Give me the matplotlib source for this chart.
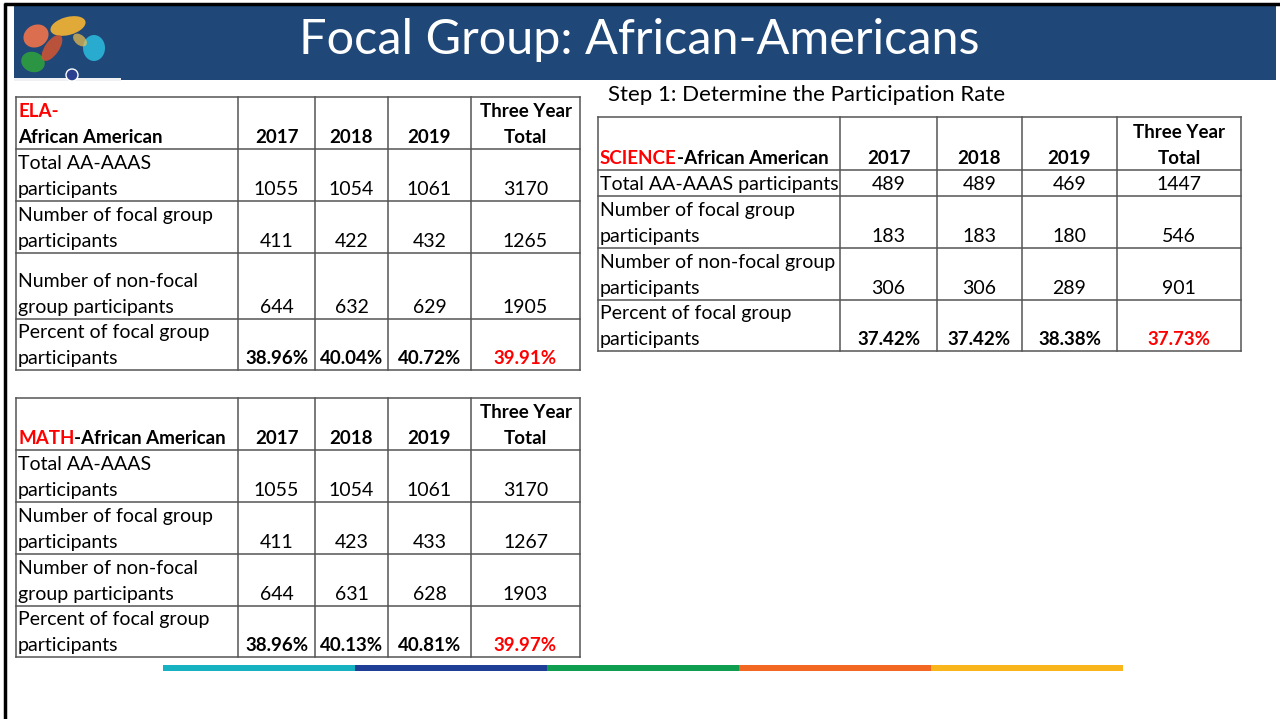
import matplotlib
matplotlib.use("Agg")
import matplotlib.pyplot as plt
from matplotlib.patches import Rectangle, Ellipse, Circle

# ---------------- data ----------------
title = "Focal Group: African-Americans"
step_text = "Step 1: Determine the Participation Rate"
years = ["2017", "2018", "2019"]
total_header = ["Three Year", "Total"]

ela_labels = [["Total AA-AAAS", "participants"],
              ["Number of focal group", "participants"],
              ["Number of non-focal", "group participants"],
              ["Percent of focal group", "participants"]]
ela_total = ["1055", "1054", "1061", "3170"]
ela_focal = ["411", "422", "432", "1265"]
ela_nonfocal = ["644", "632", "629", "1905"]
ela_pct = ["38.96%", "40.04%", "40.72%", "39.91%"]

math_labels = ela_labels
math_total = ["1055", "1054", "1061", "3170"]
math_focal = ["411", "423", "433", "1267"]
math_nonfocal = ["644", "631", "628", "1903"]
math_pct = ["38.96%", "40.13%", "40.81%", "39.97%"]

sci_labels = [["Total AA-AAAS participants"],
              ["Number of focal group", "participants"],
              ["Number of non-focal group", "participants"],
              ["Percent of focal group", "participants"]]
sci_total = ["489", "489", "469", "1447"]
sci_focal = ["183", "183", "180", "546"]
sci_nonfocal = ["306", "306", "289", "901"]
sci_pct = ["37.42%", "37.42%", "38.38%", "37.73%"]

bar_colors = ["#17B2C2", "#1F3F96", "#0F9E50", "#F26722", "#F8B51C"]

# ---------------- figure ----------------
W, H = 1280, 719
fig = plt.figure(figsize=(W / 100, H / 100), dpi=100)
ax = fig.add_axes([0, 0, 1, 1])
ax.set_xlim(0, W)
ax.set_ylim(H, 0)
ax.axis("off")

FONT = "Lato"
FS = 14
FSB = 13.5
LINE = 26
RED = "#FF0000"
GRID = "#555555"

# slide frame
ax.plot([5, 5], [3, H], color="black", lw=2.5, solid_capstyle="butt")
ax.plot([4, W], [4, 4], color="black", lw=2.5, solid_capstyle="butt")
# header band
ax.add_patch(Rectangle((14, 6), 1262, 74, facecolor="#1F4778", edgecolor="none"))
ax.add_patch(Rectangle((14, 78), 107, 3, facecolor="#EEF0F4", edgecolor="none"))
ax.text(639, 40, title, color="white", fontsize=35, family=FONT,
        ha="center", va="center")

# logo approximation
ax.add_patch(Ellipse((36, 36), 26, 22, angle=-30, facecolor="#F0734A", alpha=0.9))
ax.add_patch(Ellipse((68, 26), 36, 18, angle=-15, facecolor="#F6B531", alpha=0.9))
ax.add_patch(Ellipse((94, 48), 22, 26, facecolor="#2BB6D9", alpha=0.9))
ax.add_patch(Ellipse((33, 62), 24, 20, angle=20, facecolor="#2E9E3F", alpha=0.9))
ax.add_patch(Ellipse((52, 48), 14, 30, angle=35, facecolor="#E0552B", alpha=0.8))
ax.add_patch(Ellipse((80, 40), 16, 10, angle=40, facecolor="#F2C14E", alpha=0.7))
ax.add_patch(Circle((72, 75), 6, facecolor="#2A3F8F", edgecolor="white", lw=1))

ax.text(608, 101, step_text, fontsize=16, family=FONT, va="baseline", ha="left")


def draw_table(xs, ys, title_parts, labels, rows):
    # grid
    for x in xs:
        ax.plot([x, x], [ys[0], ys[-1]], color=GRID, lw=1.1, solid_capstyle="projecting")
    for y in ys:
        ax.plot([xs[0], xs[-1]], [y, y], color=GRID, lw=1.1, solid_capstyle="projecting")
    # header
    hb = ys[1] - 6
    if title_parts[0][2] == "two-line":
        ax.text(xs[0] + 2, hb - LINE, title_parts[0][0], color=title_parts[0][1],
                fontsize=FSB, family=FONT, weight="bold", va="baseline")
        ax.text(xs[0] + 2, hb, title_parts[1][0], color=title_parts[1][1],
                fontsize=FSB, family=FONT, weight="bold", va="baseline")
    else:
        t1 = ax.text(xs[0] + 2, hb, title_parts[0][0], color=title_parts[0][1],
                     fontsize=FSB, family=FONT, weight="bold", va="baseline")
        ax.annotate(title_parts[1][0], xy=(1, 0), xycoords=t1, color=title_parts[1][1],
                    fontsize=FSB, family=FONT, weight="bold", va="bottom", ha="left")
    for i, yr in enumerate(years):
        ax.text((xs[i + 1] + xs[i + 2]) / 2, hb, yr, fontsize=FSB, family=FONT,
                weight="bold", ha="center", va="baseline")
    cx = (xs[4] + xs[5]) / 2
    ax.text(cx, hb - LINE, total_header[0], fontsize=FSB, family=FONT,
            weight="bold", ha="center", va="baseline")
    ax.text(cx, hb, total_header[1], fontsize=FSB, family=FONT,
            weight="bold", ha="center", va="baseline")
    # body
    for r, (lab, vals) in enumerate(zip(labels, rows)):
        base = ys[r + 2] - 6
        for k, line in enumerate(lab):
            ax.text(xs[0] + 2, base - LINE * (len(lab) - 1 - k), line, fontsize=FS,
                    family=FONT, va="baseline", ha="left")
        bold = r == len(rows) - 1
        for c, v in enumerate(vals):
            color = RED if (bold and c == 3) else "black"
            ax.text((xs[c + 1] + xs[c + 2]) / 2, base, v,
                    fontsize=FSB if bold else FS, family=FONT,
                    weight="bold" if bold else "normal", color=color,
                    ha="center", va="baseline")


draw_table([16, 238, 315, 388, 471, 580], [97, 149, 201, 253, 319, 370],
           [("ELA-", RED, "two-line"), ("African American", "black", "")],
           ela_labels, [ela_total, ela_focal, ela_nonfocal, ela_pct])
draw_table([16, 238, 315, 388, 471, 580], [398, 450, 502, 554, 606, 657],
           [("MATH", RED, ""), ("-African American", "black", "")],
           math_labels, [math_total, math_focal, math_nonfocal, math_pct])
draw_table([598, 840, 937, 1022, 1117, 1241], [117, 170, 196, 248, 300, 351],
           [("SCIENCE", RED, ""), ("-African American", "black", "")],
           sci_labels, [sci_total, sci_focal, sci_nonfocal, sci_pct])

# decorative colour bar
seg_w = (1123 - 163) / len(bar_colors)
for i, c in enumerate(bar_colors):
    ax.add_patch(Rectangle((163 + i * seg_w, 665), seg_w, 6, facecolor=c, edgecolor="none"))

fig.savefig("out.png", dpi=100)
